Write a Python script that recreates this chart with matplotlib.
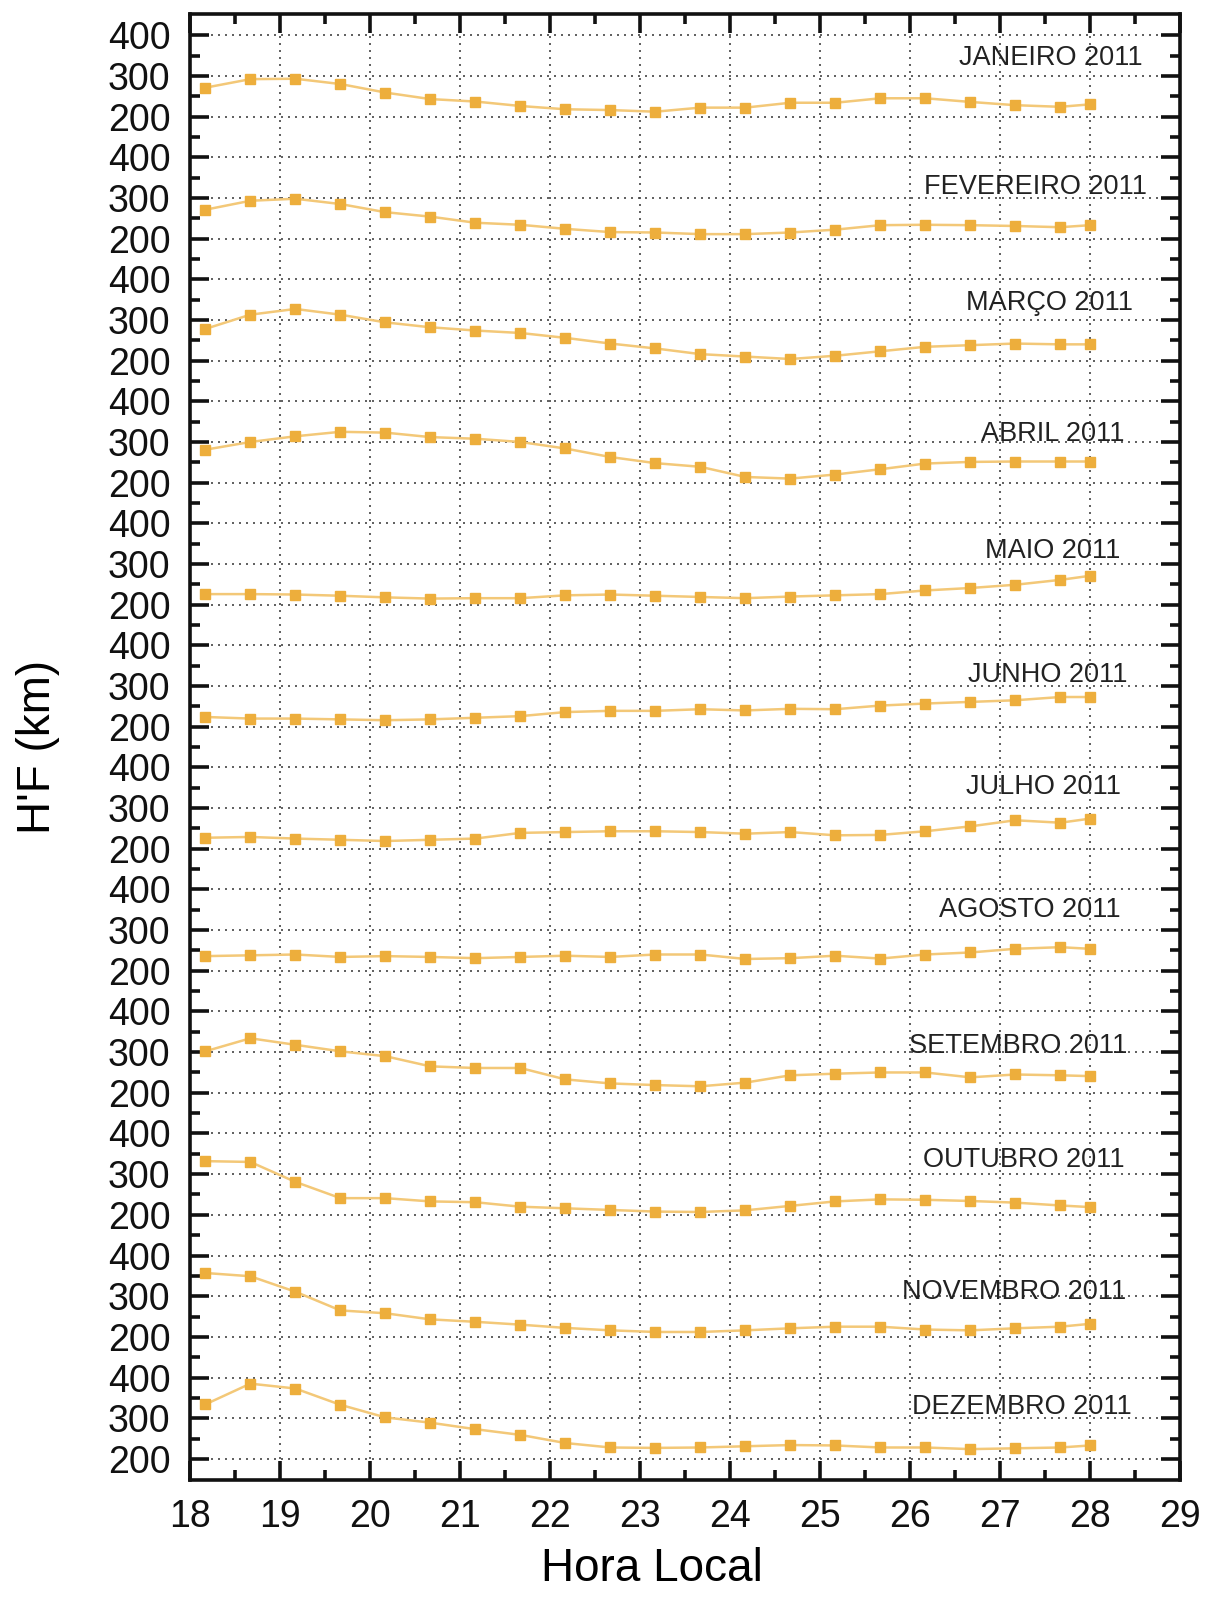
import numpy as np
import matplotlib
matplotlib.use("Agg")
import matplotlib.pyplot as plt
from matplotlib.ticker import MultipleLocator, FixedLocator, FixedFormatter

plt.rcParams['font.family'] = ['Liberation Sans', 'DejaVu Sans']

# local time of each sounding (18:10, 18:40, ... 03:40, 04:00)
hora = [18.17, 18.67, 19.17, 19.67, 20.17, 20.67, 21.17, 21.67, 22.17, 22.67,
        23.17, 23.67, 24.17, 24.67, 25.17, 25.67, 26.17, 26.67, 27.17, 27.67, 28.0]

meses = ["JANEIRO 2011", "FEVEREIRO 2011", "MARÇO 2011", "ABRIL 2011",
         "MAIO 2011", "JUNHO 2011", "JULHO 2011", "AGOSTO 2011",
         "SETEMBRO 2011", "OUTUBRO 2011", "NOVEMBRO 2011", "DEZEMBRO 2011"]

# h'F in km
jan = [271, 292, 293, 280, 259, 243, 237, 226, 218, 216, 212, 222, 222, 234, 234, 245, 245, 236, 228, 224, 230]
fev = [271, 293, 298, 285, 265, 254, 239, 234, 224, 216, 215, 211, 211, 215, 222, 233, 234, 233, 231, 228, 233]
mar = [278, 313, 327, 313, 294, 282, 274, 268, 256, 242, 230, 216, 210, 204, 212, 223, 234, 238, 242, 240, 240]
abr = [281, 300, 314, 325, 323, 312, 308, 300, 284, 263, 248, 239, 214, 210, 220, 233, 247, 251, 252, 252, 252]
mai = [226, 226, 225, 222, 218, 215, 216, 216, 223, 225, 222, 219, 216, 220, 223, 226, 235, 241, 249, 261, 271]
jun = [224, 220, 220, 218, 216, 218, 222, 226, 236, 239, 239, 243, 240, 244, 243, 252, 257, 261, 265, 273, 273]
jul = [227, 229, 225, 222, 219, 222, 225, 239, 241, 243, 243, 241, 237, 241, 233, 234, 243, 255, 270, 264, 274]
ago = [236, 238, 240, 234, 236, 234, 231, 234, 237, 234, 240, 240, 229, 231, 237, 230, 240, 245, 254, 258, 254]
set_ = [302, 334, 318, 302, 290, 265, 261, 261, 233, 223, 219, 216, 225, 243, 247, 250, 250, 238, 245, 243, 241]
out = [332, 330, 281, 241, 241, 233, 231, 220, 216, 212, 208, 207, 211, 222, 233, 238, 237, 234, 230, 223, 219]
nov = [357, 349, 311, 265, 258, 243, 237, 230, 222, 216, 212, 212, 216, 221, 225, 225, 218, 216, 221, 225, 232]
dez = [334, 385, 373, 333, 302, 289, 273, 259, 239, 228, 227, 228, 231, 234, 233, 228, 228, 224, 226, 228, 233]
series = [jan, fev, mar, abr, mai, jun, jul, ago, set_, out, nov, dez]

# where each month name sits (hour of its right edge, h'F of its centre)
rotulo_x = [28.58, 28.63, 28.48, 28.38, 28.34, 28.42, 28.34, 28.34, 28.42, 28.38, 28.40, 28.46]
rotulo_y = [343, 328, 341, 319, 332, 327, 351, 349, 315, 334, 310, 327]

n = len(series)
fig = plt.figure(figsize=(12.12, 15.99), dpi=100)
ax = fig.add_axes([0.1568, 0.0744, 0.8168, 0.9168])

# stack the months: each one gets a 200-400 km strip, January on top
for i, (v, nome) in enumerate(zip(series, meses)):
    base = 3 * (n - 1 - i)
    y = base + (np.array(v) - 200) / 100.0
    ax.plot(hora, y, '-', color='#F3C878', lw=1.8, zorder=3)
    ax.plot(hora, y, 's', color='#EDAE3C', ms=6.5, mec='#EDAE3C', zorder=4)
    ax.text(rotulo_x[i], base + (rotulo_y[i] - 200) / 100.0, nome,
            ha='right', va='center', fontsize=19.5, color='#222222', zorder=5)

ax.set_xlim(18, 29)
ax.set_ylim(-0.52, 3 * n - 0.48)

ax.xaxis.set_major_locator(MultipleLocator(1))
ax.xaxis.set_minor_locator(MultipleLocator(0.5))
pos = np.arange(3 * n)
ax.yaxis.set_major_locator(FixedLocator(pos))
ax.yaxis.set_major_formatter(FixedFormatter([str(200 + 100 * (p % 3)) for p in pos]))
ax.yaxis.set_minor_locator(FixedLocator(pos[:-1] + 0.5))

ax.tick_params(which='both', direction='in', top=True, right=True,
               width=2.6, labelsize=27, pad=14, colors='#111111')
ax.tick_params(which='major', length=14)
ax.tick_params(which='minor', length=7)
for s in ax.spines.values():
    s.set_linewidth(2.6)
    s.set_color('#111111')

ax.grid(True, which='major', linestyle=(0, (1.2, 3)), color='#444444', lw=1.2)

ax.set_xlabel("Hora Local", fontsize=33)
ax.set_ylabel("H'F (km)", fontsize=33)
ax.xaxis.set_label_coords(0.467, -0.046)
ax.yaxis.set_label_coords(-0.131, 0.5)

fig.savefig("out.png", dpi=100)
